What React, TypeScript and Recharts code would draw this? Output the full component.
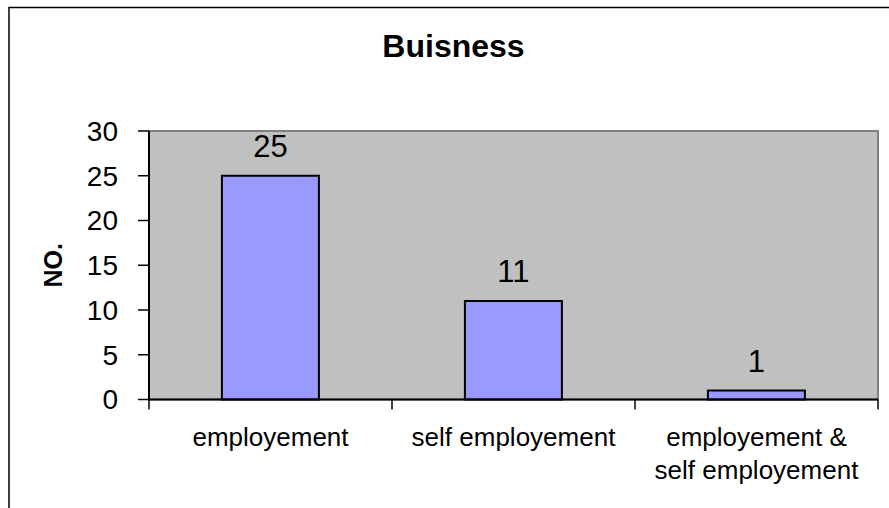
import React from "react";
import {
  BarChart,
  Bar,
  XAxis,
  YAxis,
  CartesianGrid,
  LabelList,
  ReferenceArea,
} from "recharts";

const categories = ["employement", "self employement", "employement & self employement"];
const categoryLines = [["employement"], ["self employement"], ["employement &", "self employement"]];
const counts = [25, 11, 1];
const yTicks = [0, 5, 10, 15, 20, 25, 30];
const title = "Buisness";
const yLabel = "NO.";

const data = categories.map((name, i) => ({ name, value: counts[i] }));

const FONT = "'Liberation Sans', Arial, Helvetica, sans-serif";

const CategoryTick = (props: any) => {
  const { x, y, index, width, visibleTicksCount } = props;
  const n = visibleTicksCount || categories.length;
  const bw = width / n;
  const lines = categoryLines[index] || [String(props.payload?.value ?? "")];
  const axisY = y;
  return (
    <g>
      <line x1={x - bw / 2} x2={x - bw / 2} y1={axisY} y2={axisY + 10} stroke="#000" strokeWidth={1.5} />
      {index === n - 1 && (
        <line x1={x + bw / 2} x2={x + bw / 2} y1={axisY} y2={axisY + 10} stroke="#000" strokeWidth={1.5} />
      )}
      <text x={x} y={axisY + 46} textAnchor="middle" fontSize={26} fontFamily={FONT} fill="#000">
        {lines.map((l: string, i: number) => (
          <tspan key={i} x={x} dy={i === 0 ? 0 : 33}>
            {l}
          </tspan>
        ))}
      </text>
    </g>
  );
};

const YLabel = (props: any) => {
  const vb = props.viewBox || {};
  const cx = vb.x + 22;
  const cy = vb.y + vb.height / 2;
  return (
    <text
      x={cx}
      y={cy}
      transform={`rotate(-90, ${cx}, ${cy})`}
      textAnchor="middle"
      fontSize={25}
      fontWeight="bold"
      fontFamily={FONT}
      fill="#000"
    >
      {yLabel}
    </text>
  );
};

export default function App() {
  return (
    <div style={{ position: "absolute", left: 0, top: 0, width: 889, height: 508, background: "#fff", overflow: "hidden" }}>
      <BarChart
        width={889}
        height={508}
        data={data}
        margin={{ top: 131, right: 11, bottom: 38.5, left: 40 }}
        barCategoryGap="30%"
      >
        <CartesianGrid fill="#C0C0C0" stroke="none" horizontal={false} vertical={false} />
        <ReferenceArea
          x1={categories[0]}
          x2={categories[categories.length - 1]}
          y1={0}
          y2={30}
          fill="none"
          fillOpacity={0}
          stroke="#808080"
          strokeWidth={2}
        />
        <XAxis
          dataKey="name"
          type="category"
          tick={<CategoryTick />}
          tickLine={false}
          tickSize={0}
          tickMargin={0}
          axisLine={{ stroke: "#000", strokeWidth: 2 }}
          height={70}
          interval={0}
        />
        <YAxis
          domain={[0, 30]}
          ticks={yTicks}
          width={109}
          tickSize={11}
          tickMargin={20}
          tick={{ fontSize: 28, fill: "#000", fontFamily: FONT }}
          tickLine={{ stroke: "#000", strokeWidth: 1.5 }}
          axisLine={{ stroke: "#000", strokeWidth: 2 }}
          label={{ content: <YLabel /> }}
          interval={0}
        />
        <Bar dataKey="value" fill="#9999FF" stroke="#000" strokeWidth={2} isAnimationActive={false}>
          <LabelList
            dataKey="value"
            position="top"
            offset={19}
            fontSize={31}
            fontFamily={FONT}
            fill="#000"
          />
        </Bar>
      </BarChart>
      <svg
        width={889}
        height={508}
        style={{ position: "absolute", left: 0, top: 0, pointerEvents: "none" }}
      >
        <path d="M9,508 V7.5 H889" fill="none" stroke="#000" strokeWidth={1.5} />
        <text x={453.5} y={57} textAnchor="middle" fontSize={32} fontWeight="bold" fontFamily={FONT} fill="#000">
          {title}
        </text>
      </svg>
    </div>
  );
}
